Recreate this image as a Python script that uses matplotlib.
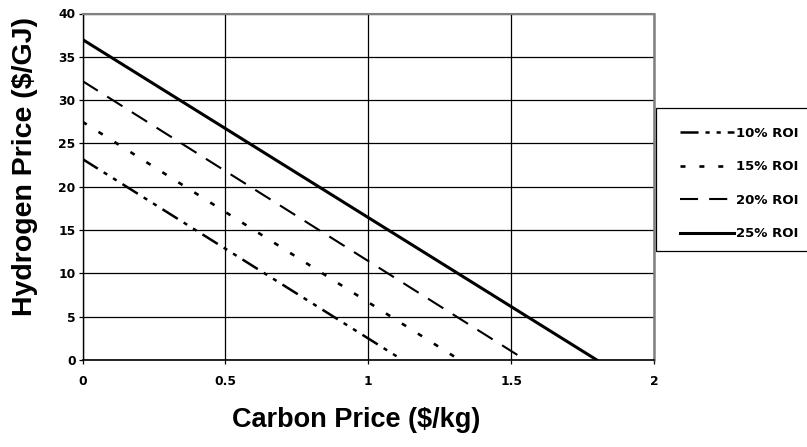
import matplotlib
matplotlib.use('Agg')
import matplotlib.pyplot as plt
from matplotlib.patches import Rectangle

plt.rcParams['font.family'] = ['Liberation Sans', 'DejaVu Sans']
plt.rcParams['font.weight'] = 'bold'
plt.rcParams['lines.scale_dashes'] = False

# each ROI line runs from its y-intercept (carbon price 0) down to zero hydrogen price
labels = ['10% ROI', '15% ROI', '20% ROI', '25% ROI']
carbonPrice = [[0, 1.12], [0, 1.32], [0, 1.55], [0, 1.80]]
hydrogenPrice = [[23.2, 0], [27.5, 0], [32.2, 0], [37.0, 0]]

xTicks = [0, 0.5, 1, 1.5, 2]
xTickLabels = ['0', '0.5', '1', '1.5', '2']
yTicks = [0, 5, 10, 15, 20, 25, 30, 35, 40]

# line widths and dash patterns (points) for each series
widths = [1.8, 1.9, 1.5, 2.2]
dashList = [(13, 5, 3, 5, 3, 5), (3.6, 10), (13, 8), None]

fig = plt.figure(figsize=(8.07, 4.47), dpi=100)
ax = fig.add_axes([82.5/807, 1-360/447, (654-82.5)/807, (360-13.5)/447])

handles = []
for i in range(len(labels)):
    if dashList[i] is not None:
        ln, = ax.plot(carbonPrice[i], hydrogenPrice[i], color='black', lw=widths[i],
                      dashes=dashList[i], dash_capstyle='butt', label=labels[i], zorder=3)
    else:
        ln, = ax.plot(carbonPrice[i], hydrogenPrice[i], color='black', lw=widths[i],
                      linestyle='-', label=labels[i], zorder=3)
    handles.append(ln)

ax.set_xlim(0, 2)
ax.set_ylim(0, 40)
ax.set_xticks(xTicks)
ax.set_xticklabels(xTickLabels)
ax.set_yticks(yTicks)
ax.grid(True, color='black', lw=0.9)
ax.set_axisbelow(True)

ax.tick_params(axis='x', direction='out', length=3, width=0.9, pad=8)
ax.tick_params(axis='y', direction='out', length=3, width=0.9, pad=2)
for lab in ax.get_xticklabels() + ax.get_yticklabels():
    lab.set_fontfamily('DejaVu Sans')
    lab.set_fontweight('bold')
    lab.set_fontsize(8.8)

ax.spines['left'].set_color('black')
ax.spines['left'].set_linewidth(1.0)
ax.spines['bottom'].set_color('black')
ax.spines['bottom'].set_linewidth(1.2)
ax.spines['top'].set_color('#808080')
ax.spines['top'].set_linewidth(1.5)
ax.spines['right'].set_color('#808080')
ax.spines['right'].set_linewidth(1.8)

fig.text(25/807, 1-166/447, 'Hydrogen Price ($/GJ)', rotation=90, ha='center', va='center',
         fontsize=20.5, fontweight='bold')
fig.text(356/807, 1-420/447, 'Carbon Price ($/kg)', ha='center', va='center',
         fontsize=19.5, fontweight='bold')

# legend box runs off the right edge of the figure
fig.patches.append(Rectangle((656/807, 1-251/447), (820-656)/807, (251-108)/447,
                             transform=fig.transFigure, fill=False, edgecolor='black', lw=0.9))
fig.legend(handles=handles, loc='upper left', bbox_to_anchor=(680/807, 1-127/447),
           frameon=False, borderpad=0, borderaxespad=0, handlelength=4.1, handletextpad=0.15,
           labelspacing=1.55, prop=dict(family='DejaVu Sans', size=9.5, weight='bold'))

fig.savefig('out.png', dpi=100)
